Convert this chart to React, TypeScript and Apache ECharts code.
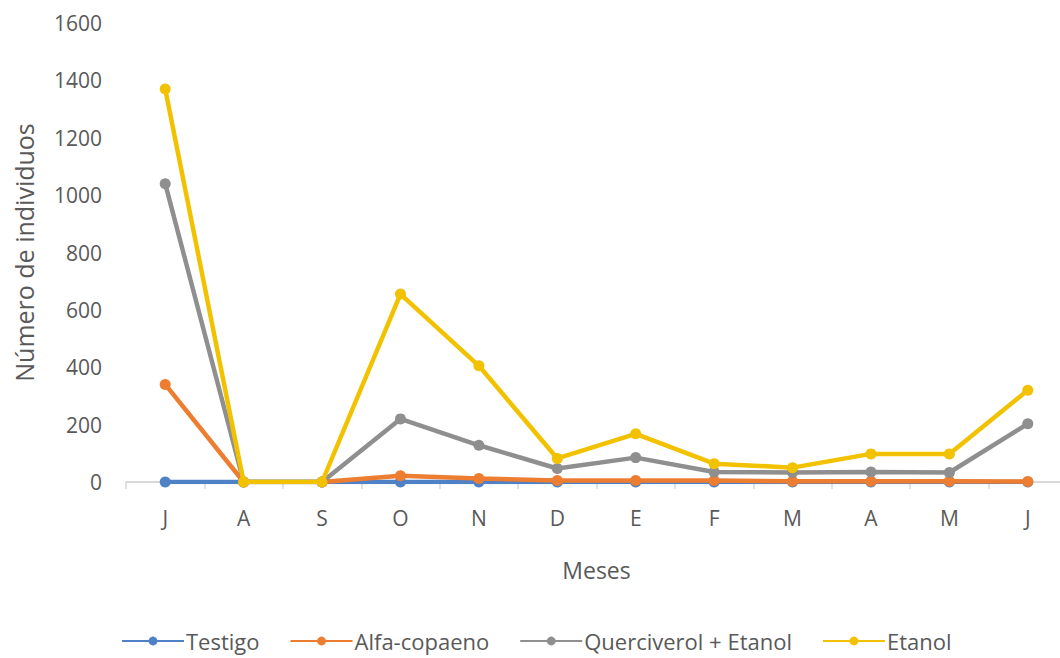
import React, { useEffect, useRef } from "react";
import * as echarts from "echarts";

const months = ["J", "A", "S", "O", "N", "D", "E", "F", "M", "A", "M", "J"];
const testigo = [0, 0, 0, 0, 0, 0, 0, 0, 0, 0, 0, 0];
const alfaCopaeno = [340, 0, 0, 22, 12, 5, 5, 5, 3, 3, 3, 2];
const querciverolEtanol = [1040, 0, 0, 220, 128, 47, 85, 35, 33, 35, 33, 203];
const etanol = [1370, 0, 0, 655, 405, 82, 168, 64, 50, 98, 98, 320];

const seriesNames = ["Testigo", "Alfa-copaeno", "Querciverol + Etanol", "Etanol"];
const seriesColors = ["#4f81c7", "#ed7d31", "#8f8f8f", "#f2c200"];
const yTicks = { min: 0, max: 1600, interval: 200 };

const FONT = "'Open Sans', Lato, sans-serif";
const GREY_TEXT = "#595959";

export default function App() {
  const ref = useRef<HTMLDivElement>(null);

  useEffect(() => {
    if (!ref.current) return;
    const chart = echarts.init(ref.current, undefined, { renderer: "svg" });
    const data = [testigo, alfaCopaeno, querciverolEtanol, etanol];
    chart.setOption({
      animation: false,
      backgroundColor: "#ffffff",
      textStyle: { fontFamily: FONT },
      grid: {
        left: 126,
        right: -7,
        top: 23,
        bottom: 176,
        containLabel: false,
        outerBoundsMode: "none",
      },
      legend: {
        top: 625,
        left: 116,
        itemWidth: 62,
        itemHeight: 11,
        itemGap: 30,
        textStyle: { fontFamily: FONT, fontSize: 22, color: GREY_TEXT, padding: [0, 0, 0, -3] },
        data: seriesNames,
      },
      xAxis: {
        type: "category",
        data: months,
        boundaryGap: true,
        name: "Meses",
        nameLocation: "middle",
        nameGap: 76,
        nameTextStyle: { fontFamily: FONT, fontSize: 23, color: GREY_TEXT },
        axisLine: { lineStyle: { color: "#d9d9d9", width: 2 } },
        axisTick: { show: true, length: 7, lineStyle: { color: "#d9d9d9", width: 1.5 } },
        axisLabel: { fontFamily: FONT, fontSize: 21, color: GREY_TEXT, margin: 25 },
        splitLine: { show: false },
      },
      yAxis: {
        type: "value",
        min: yTicks.min,
        max: yTicks.max,
        interval: yTicks.interval,
        name: "Número de individuos",
        nameLocation: "middle",
        nameGap: 90,
        nameTextStyle: { fontFamily: FONT, fontSize: 25, color: GREY_TEXT },
        axisLine: { show: false },
        axisTick: { show: false },
        axisLabel: {
          fontFamily: FONT,
          fontSize: 21,
          color: GREY_TEXT,
          margin: 24,
          formatter: (v: number) => String(v),
        },
        splitLine: { show: false },
      },
      series: seriesNames.map((name, i) => ({
        name,
        type: "line",
        data: data[i],
        symbol: "circle",
        symbolSize: 11,
        showSymbol: true,
        lineStyle: { width: 4.5, color: seriesColors[i] },
        itemStyle: { color: seriesColors[i] },
        z: 2 + i,
      })),
    });
    return () => chart.dispose();
  }, []);

  return (
    <div
      ref={ref}
      style={{ position: "fixed", left: 0, top: 0, width: 1060, height: 658 }}
    />
  );
}
